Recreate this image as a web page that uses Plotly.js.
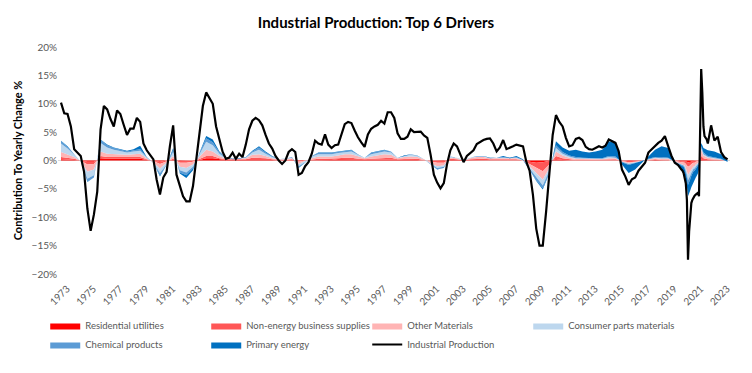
<!DOCTYPE html>
<html>
<head>
<meta charset="utf-8">
<script src="https://cdn.plot.ly/plotly-3.0.1.min.js"></script>
<style>
html,body{margin:0;padding:0;background:#fff;}
#chart{width:752px;height:373px;}
</style>
</head>
<body>
<div id="chart"></div>
<script>
// ---- Industrial Production (YoY %), quarterly to 2019, monthly 2020-2021, quarterly after ----
const ipDates = [
"1973-01","1973-04","1973-07","1973-10","1974-01","1974-04","1974-07","1974-10",
"1975-01","1975-04","1975-07","1975-10","1976-01","1976-04","1976-07","1976-10",
"1977-01","1977-04","1977-07","1977-10","1978-01","1978-04","1978-07","1978-10",
"1979-01","1979-04","1979-07","1979-10","1980-01","1980-04","1980-07","1980-10",
"1981-01","1981-04","1981-07","1981-10","1982-01","1982-04","1982-07","1982-10",
"1983-01","1983-04","1983-07","1983-10","1984-01","1984-04","1984-07","1984-10",
"1985-01","1985-04","1985-07","1985-10","1986-01","1986-04","1986-07","1986-10",
"1987-01","1987-04","1987-07","1987-10","1988-01","1988-04","1988-07","1988-10",
"1989-01","1989-04","1989-07","1989-10","1990-01","1990-04","1990-07","1990-10",
"1991-01","1991-04","1991-07","1991-10","1992-01","1992-04","1992-07","1992-10",
"1993-01","1993-04","1993-07","1993-10","1994-01","1994-04","1994-07","1994-10",
"1995-01","1995-04","1995-07","1995-10","1996-01","1996-04","1996-07","1996-10",
"1997-01","1997-04","1997-07","1997-10","1998-01","1998-04","1998-07","1998-10",
"1999-01","1999-04","1999-07","1999-10","2000-01","2000-04","2000-07","2000-10",
"2001-01","2001-04","2001-07","2001-10","2002-01","2002-04","2002-07","2002-10",
"2003-01","2003-04","2003-07","2003-10","2004-01","2004-04","2004-07","2004-10",
"2005-01","2005-04","2005-07","2005-10","2006-01","2006-04","2006-07","2006-10",
"2007-01","2007-04","2007-07","2007-10","2008-01","2008-04","2008-07","2008-10",
"2009-01","2009-04","2009-07","2009-10","2010-01","2010-04","2010-07","2010-10",
"2011-01","2011-04","2011-07","2011-10","2012-01","2012-04","2012-07","2012-10",
"2013-01","2013-04","2013-07","2013-10","2014-01","2014-04","2014-07","2014-10",
"2015-01","2015-04","2015-07","2015-10","2016-01","2016-04","2016-07","2016-10",
"2017-01","2017-04","2017-07","2017-10","2018-01","2018-04","2018-07","2018-10",
"2019-01","2019-04","2019-07","2019-10",
"2020-01","2020-02","2020-03","2020-04","2020-05","2020-06","2020-07","2020-08","2020-09","2020-10","2020-11","2020-12",
"2021-01","2021-02","2021-03","2021-04","2021-05","2021-06","2021-07","2021-08","2021-09","2021-10","2021-11","2021-12",
"2022-01","2022-04","2022-07","2022-10","2023-01","2023-04","2023-07"
];
const industrialProduction = [
10.2,8.3,8.2,6.0, 2.0,1.3,0.8,-2.0,
-8.5,-12.4,-9.5,-5.5, 5.5,9.6,9.0,7.3,
6.0,8.8,8.2,6.3, 4.5,5.6,5.6,7.5,
6.8,3.0,1.8,1.0, 0.2,-3.4,-6.0,-3.0,
-2.0,2.5,6.2,-2.5, -4.5,-6.3,-7.2,-7.2,
-4.5,0.5,5.5,9.6, 12.0,11.1,10.0,6.0,
3.5,1.5,0.3,0.5, 1.4,0.3,1.2,0.6,
2.8,5.5,7.0,7.5, 7.1,6.2,4.5,3.0,
2.1,0.8,0.0,-0.6, 0.0,1.5,2.0,1.5,
-2.5,-2.2,-1.0,-0.3, 1.2,3.5,3.0,2.8,
4.6,2.8,2.2,2.7, 2.8,4.7,6.4,6.8,
6.6,5.3,4.1,3.2, 2.4,4.6,5.6,6.0,
6.3,7.0,6.5,8.5, 8.5,7.5,4.8,3.8,
3.8,4.2,5.5,5.0, 5.0,5.1,4.4,4.0,
1.0,-2.5,-3.9,-4.9, -4.0,-0.6,1.8,3.0,
2.5,1.2,-0.3,0.8, 1.3,1.8,2.9,3.3,
3.6,3.8,3.9,3.0, 1.6,2.3,3.6,2.0,
2.2,2.5,2.8,2.6, 2.5,-0.2,-1.8,-6.0,
-12.0,-15.0,-15.0,-9.0, -1.5,4.5,8.0,6.8,
6.0,4.0,2.5,2.7, 3.8,4.0,3.6,2.4,
2.0,1.9,2.2,2.5, 2.3,2.6,3.7,3.4,
3.1,1.6,-1.6,-2.8, -4.3,-3.3,-3.0,-1.8,
-1.0,-0.4,1.4,2.0, 2.5,3.1,3.5,4.3,
2.5,0.8,-0.4,-0.8,
-1.6,-1.8,-2.2,-3.0,-4.0,-7.0,-17.5,-12.5,-10.0,-7.5,-6.9,-6.5,
-6.2,-6.0,-5.8,-5.7,-6.3,5.0,16.1,12.0,6.0,4.3,4.0,3.7,
3.0,6.2,3.5,4.2,1.5,0.6,0.2
];

// ---- Driver contributions (pp), half-yearly to 2020, monthly 2020-03..2021-09, then half-yearly ----
const compDates = [
"1973-01","1973-07","1974-01","1974-07","1975-01","1975-07","1976-01","1976-07",
"1977-01","1977-07","1978-01","1978-07","1979-01","1979-07","1980-01","1980-07",
"1981-01","1981-07","1982-01","1982-07","1983-01","1983-07","1984-01","1984-07",
"1985-01","1985-07","1986-01","1986-07","1987-01","1987-07","1988-01","1988-07",
"1989-01","1989-07","1990-01","1990-07","1991-01","1991-07","1992-01","1992-07",
"1993-01","1993-07","1994-01","1994-07","1995-01","1995-07","1996-01","1996-07",
"1997-01","1997-07","1998-01","1998-07","1999-01","1999-07","2000-01","2000-07",
"2001-01","2001-07","2002-01","2002-07","2003-01","2003-07","2004-01","2004-07",
"2005-01","2005-07","2006-01","2006-07","2007-01","2007-07","2008-01","2008-07",
"2009-01","2009-07","2010-01","2010-07","2011-01","2011-07","2012-01","2012-07",
"2013-01","2013-07","2014-01","2014-07","2015-01","2015-07","2016-01","2016-07",
"2017-01","2017-07","2018-01","2018-07","2019-01","2019-07","2020-01",
"2020-03","2020-04","2020-05","2020-06","2020-07","2020-08","2020-09","2020-10","2020-11","2020-12",
"2021-01","2021-02","2021-03","2021-04","2021-05","2021-06","2021-07","2021-08","2021-09",
"2022-01","2022-07","2023-01","2023-07"
];
const residentialUtilities = [
.2,.2,.1,0,-.2,-.2,.4,.3, .3,.3,.3,.3,.3,.1,0,-.2,
0,.1,-.1,-.1,0,.1,.4,.4, .2,.1,.1,.1,.1,.2,.2,.2,
.1,0,0,.1,0,0,.1,.1, .1,.1,.2,.2,.2,.1,.1,.1,
.1,.2,.2,.1,.1,.1,.1,0, 0,-.1,-.1,.1,.1,0,.1,.1,
.1,.1,.1,.1,.1,.1,0,-.2, -.4,-.3,-.1,.2,.1,0,0,0,
0,0,0,.1,.1,0,-.1,-.1, -.1,0,.1,0,0,0,-.1,
-.1,-.1,-.2,-.2,-.3,-.3,-.2,-.2,-.1,-.1,
-.1,0,0,0,0,.1,.2,.1,.1,
0,0,0,0
];
const nonEnergyBusinessSupplies = [
.4,.3,.2,0,-.5,-.4,.4,.3, .3,.3,.3,.3,.3,.1,-.1,-.4,
-.1,.2,-.3,-.3,-.2,.2,.4,.4, .2,.1,.1,.1,.1,.3,.3,.2,
.1,.1,.1,.1,-.2,0,.1,.2, .2,.2,.2,.3,.3,.2,.1,.2,
.3,.3,.3,.1,.2,.2,.2,.1, -.2,-.3,-.3,.2,.1,0,.1,.2,
.2,.1,.1,.1,.1,.1,0,-.4, -.9,-1.6,-.6,.6,.3,.2,.1,.1,
.1,.1,.1,.1,.1,-.1,-.2,-.1, 0,.1,.1,.1,.1,-.1,-.2,
-.2,-.3,-.4,-.6,-.8,-.7,-.6,-.5,-.4,-.3,
-.3,-.2,-.2,-.1,-.1,.3,.6,.5,.3,
.2,.1,.1,0
];
const otherMaterials = [
.9,.6,.3,-.1,-1.3,-1.0,.8,.6, .5,.5,.4,.5,.6,.2,-.2,-.8,
-.3,.5,-.7,-.9,-.5,.4,1.1,.8, .4,.1,.1,.1,.2,.5,.6,.4,
.2,.1,.1,.2,-.4,-.1,.2,.4, .4,.4,.5,.6,.6,.4,.2,.4,
.5,.6,.5,.2,.3,.4,.3,.1, -.3,-.6,-.5,.2,.2,0,.2,.3,
.3,.2,.2,.2,.1,.2,.1,-.5, -.9,-1.5,-.6,.8,.5,.3,.2,.2,
.1,.1,.1,.2,.2,-.1,-.2,-.1, 0,.1,.2,.2,.2,-.1,-.3,
-.4,-.5,-.7,-1.0,-1.4,-1.3,-1.1,-.9,-.8,-.7,
-.6,-.5,-.4,-.3,-.2,.5,1.0,.8,.5,
.3,.2,.1,0
];
const consumerPartsMaterials = [
1.5,1.0,.4,-.1,-1.2,-1.0,1.5,1.1, .8,.6,.4,.5,.5,.1,-.1,-.8,
-.3,.7,-.6,-.8,-.4,.4,1.4,1.1, .4,.1,0,.1,.1,.4,.8,.4,
.2,0,.1,.1,-.4,-.2,.3,.4, .4,.4,.4,.4,.5,.3,.1,.4,
.4,.5,.4,.1,.2,.3,.2,0, -.1,-.3,-.2,.1,.1,0,.1,.1,
.1,.1,.1,.1,.1,.1,0,-.3, -.8,-1.0,-.4,.6,.3,.2,.1,.1,
.1,.1,.1,.2,.1,0,-.1,-.1, 0,0,.1,.1,.1,0,-.1,
-.2,-.3,-.4,-.7,-1.0,-.9,-.8,-.6,-.5,-.4,
-.4,-.3,-.3,-.2,-.1,.2,.4,.3,.2,
.1,.1,0,-.2
];
const chemicalProducts = [
.4,.3,.1,0,-.5,-.4,.5,.4, .3,.2,.2,.2,.3,.1,0,-.4,
-.1,.4,-.4,-.5,-.3,.2,.6,.5, .2,.1,0,0,.1,.2,.4,.2,
.1,0,0,.1,-.2,-.1,.1,.2, .2,.2,.2,.2,.2,.1,0,.2,
.2,.2,.2,0,.1,.1,.1,0, -.1,-.2,-.2,.1,0,-.1,0,.1,
.1,0,0,.1,0,.1,0,-.2, -.5,-.5,-.3,.5,.3,.2,.2,.1,
.1,.1,.1,.2,.2,-.1,-.2,-.1, 0,.1,.1,.2,.1,0,-.2,
-.2,-.3,-.4,-.6,-.8,-.7,-.6,-.5,-.5,-.4,
-.4,-.4,-.3,-.3,-.2,.2,.3,.3,.3,
.2,.2,.1,0
];
const primaryEnergy = [
.1,.1,0,0,-.1,0,.1,.1, .1,.1,.1,.2,.6,0,0,-.2,
0,.3,-.2,-.5,-.3,.1,.4,.5, .2,0,-.1,-.1,0,.1,.2,.2,
.1,0,0,0,-.1,0,0,.1, .1,.1,.1,.1,.1,0,0,.1,
.1,.1,0,0,-.1,0,0,0, 0,-.1,0,0,0,0,0,0,
0,-.1,0,.2,.1,.2,.1,0, -.1,-.2,-.2,.7,.8,.8,1.3,1.1,
1.0,1.2,1.5,2.6,2.4,-.4,-1.4,-1.1, -.3,.5,1.3,1.9,1.7,.1,-.7,
-.9,-1.0,-1.2,-1.5,-2.0,-2.0,-2.0,-2.0,-1.9,-1.8,
-1.7,-1.6,-1.5,-1.4,-1.0,.3,.6,.7,.8,
1.0,1.0,.8,.2
];

const seriesNames = ["Residential utilities","Non-energy business supplies","Other Materials",
  "Consumer parts materials","Chemical products","Primary energy","Industrial Production"];
const seriesColors = ["#FF0000","#FF5757","#FFB4B4","#BDD7EE","#5B9BD5","#0070C0","#000000"];
const components = [residentialUtilities, nonEnergyBusinessSupplies, otherMaterials,
  consumerPartsMaterials, chemicalProducts, primaryEnergy];

const traces = components.map((vals, i) => ({
  type: 'scatter', mode: 'lines', x: compDates, y: vals,
  name: seriesNames[i], stackgroup: 'drivers',
  line: {width: 0, color: seriesColors[i], shape: 'linear'},
  fillcolor: seriesColors[i], hoverinfo: 'x+y+name'
}));
traces.push({
  type: 'scatter', mode: 'lines', x: ipDates, y: industrialProduction,
  name: seriesNames[6], line: {color: '#000000', width: 2.2}
});

const FONT = 'Lato, "Open Sans", sans-serif';
const layout = {
  width: 752, height: 373,
  paper_bgcolor: '#ffffff', plot_bgcolor: '#ffffff',
  margin: {l: 58, r: 22, t: 47, b: 99, autoexpand: false},
  font: {family: FONT, size: 10, color: '#595959'},
  title: {text: 'Industrial Production: Top 6 Drivers', x: 0.5, xref: 'container',
    y: 0.94, yref: 'container', yanchor: 'middle',
    font: {family: FONT, size: 15, color: '#000000', weight: 700}},
  xaxis: {type: 'date', range: ['1972-10-10', '2023-09-06'],
    tick0: '1973-01-01', dtick: 'M24', tickformat: '%Y', tickangle: -45,
    showgrid: false, zeroline: false, showline: false, ticks: '',
    ticklabelstandoff: 6, ticklabelshift: 6,
    tickfont: {family: FONT, size: 10, color: '#595959'}, automargin: false},
  yaxis: {range: [-20, 20], dtick: 5, ticksuffix: '%', showgrid: false,
    zeroline: true, zerolinecolor: '#D9D9D9', zerolinewidth: 1,
    showline: false, ticks: '', automargin: false,
    tickfont: {family: FONT, size: 10, color: '#595959'},
    title: {text: 'Contribution To Yearly Change %', standoff: 6,
      font: {family: FONT, size: 11, color: '#000000', weight: 700}}},
  showlegend: true,
  legend: {orientation: 'h', x: -0.019, xanchor: 'left', y: -0.163, yanchor: 'top',
    entrywidth: 116, entrywidthmode: 'pixels', traceorder: 'normal',
    font: {family: FONT, size: 9.5, color: '#595959'}, bgcolor: 'rgba(0,0,0,0)'}
};

Plotly.newPlot('chart', traces, layout, {displayModeBar: false, staticPlot: true});
</script>
</body>
</html>
